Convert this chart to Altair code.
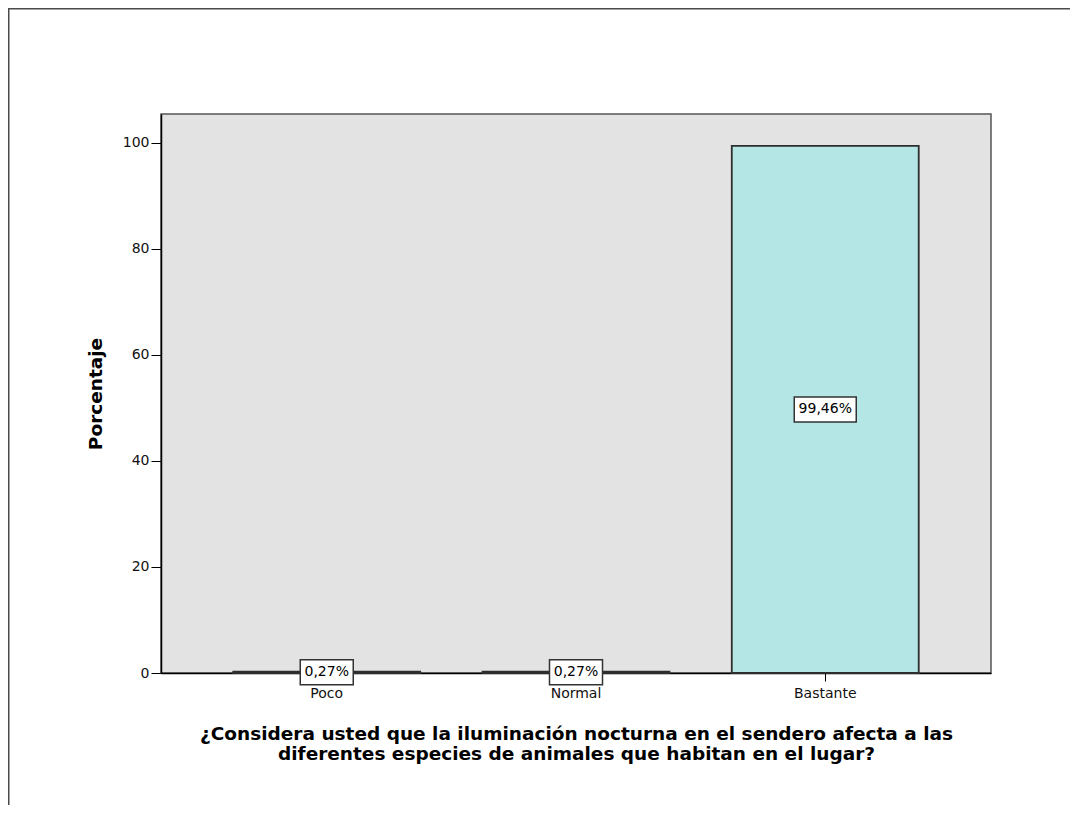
import altair as alt
import pandas as pd

# ---- data ----
categories = ["Poco", "Normal", "Bastante"]
percentages = [0.27, 0.27, 99.46]
labels = ["0,27%", "0,27%", "99,46%"]
y_ticks = [0, 20, 40, 60, 80, 100]
x_title = [
    "¿Considera usted que la iluminación nocturna en el sendero afecta a las",
    "diferentes especies de animales que habitan en el lugar?",
]
y_title = "Porcentaje"

df = pd.DataFrame({"cat": categories, "pct": percentages, "label": labels})

# ---- layout / style ----
W, H = 830, 559
YMAX = 105.47
FONT = "DejaVu Sans"
BAR_FILL = "#b4e6e6"
EDGE = "#2e2e2e"

xscale = alt.Scale(domain=categories, paddingInner=0.25, paddingOuter=0.29)
yscale = alt.Scale(domain=[0, YMAX], nice=False, zero=True)

x_axis = alt.Axis(
    title=x_title,
    labelAngle=0,
    tickSize=8,
    labelPadding=5,
    labelFont=FONT,
    labelFontSize=14,
    labelColor="#111111",
    tickColor="#000000",
    domainColor="#000000",
    domainWidth=1.5,
    titleFont=FONT,
    titleFontSize=18.5,
    titleFontWeight="bold",
    titleColor="#000000",
    titleX=W / 2,
    titleY=66,
    titleAlign="center",
    titleBaseline="alphabetic",
    titleLineHeight=20,
)
y_axis = alt.Axis(
    title=y_title,
    values=y_ticks,
    grid=False,
    tickSize=10,
    labelPadding=2,
    labelFont=FONT,
    labelFontSize=14,
    labelColor="#111111",
    tickColor="#000000",
    domainColor="#000000",
    domainWidth=1.5,
    titleFont=FONT,
    titleFontSize=18.5,
    titleFontWeight="bold",
    titleColor="#000000",
    titleX=-60,
    titleY=H / 2,
    titleAngle=270,
    titleAlign="center",
    titleBaseline="alphabetic",
)

base = alt.Chart(df).transform_calculate(mid="datum.pct / 2")

xenc = alt.X("cat:N", scale=xscale, sort=categories, axis=x_axis)

bars = base.mark_bar(fill=BAR_FILL, stroke=EDGE, strokeWidth=1.8).encode(
    x=xenc,
    y=alt.Y("pct:Q", scale=yscale, axis=y_axis),
)


def label_boxes(n_chars):
    w = 9 * n_chars + 8
    h = 25
    r = h / w
    path = f"M-1,{-r:.4f}H1V{r:.4f}H-1Z"
    return (
        base.transform_filter(f"length(datum.label) == {n_chars}")
        .mark_point(
            shape=path,
            size=w * w,
            filled=True,
            fill="white",
            stroke="#333333",
            strokeWidth=1.5,
            opacity=1,
        )
        .encode(
            x=xenc,
            y=alt.Y("mid:Q", scale=yscale, axis=y_axis),
        )
    )


texts = base.mark_text(
    font=FONT, fontSize=14, color="#000000", baseline="middle", align="center"
).encode(
    x=xenc,
    y=alt.Y("mid:Q", scale=yscale, axis=y_axis),
    text="label:N",
)

one = alt.Data(values=[{"k": 0}])
frame_left = alt.Chart(one).mark_rule(color="#4a4a4a", strokeWidth=1.5).encode(
    x=alt.value(-152.25), y=alt.value(-105.25), y2=alt.value(H + 140)
)
frame_top = alt.Chart(one).mark_rule(color="#4a4a4a", strokeWidth=1.5).encode(
    x=alt.value(-153), x2=alt.value(W + 100), y=alt.value(-105.25)
)

chart = (
    alt.layer(bars, label_boxes(5), label_boxes(6), texts, frame_left, frame_top)
    .properties(
        width=W,
        height=H,
        autosize=alt.AutoSizeParams(type="none"),
        padding={"left": 153, "top": 106, "right": 79, "bottom": 132},
        background="white",
    )
    .configure_view(fill="#e3e3e3", stroke="#555555", strokeWidth=1.5)
)

chart.save("out.html", embed_options={"renderer": "svg", "actions": False})
